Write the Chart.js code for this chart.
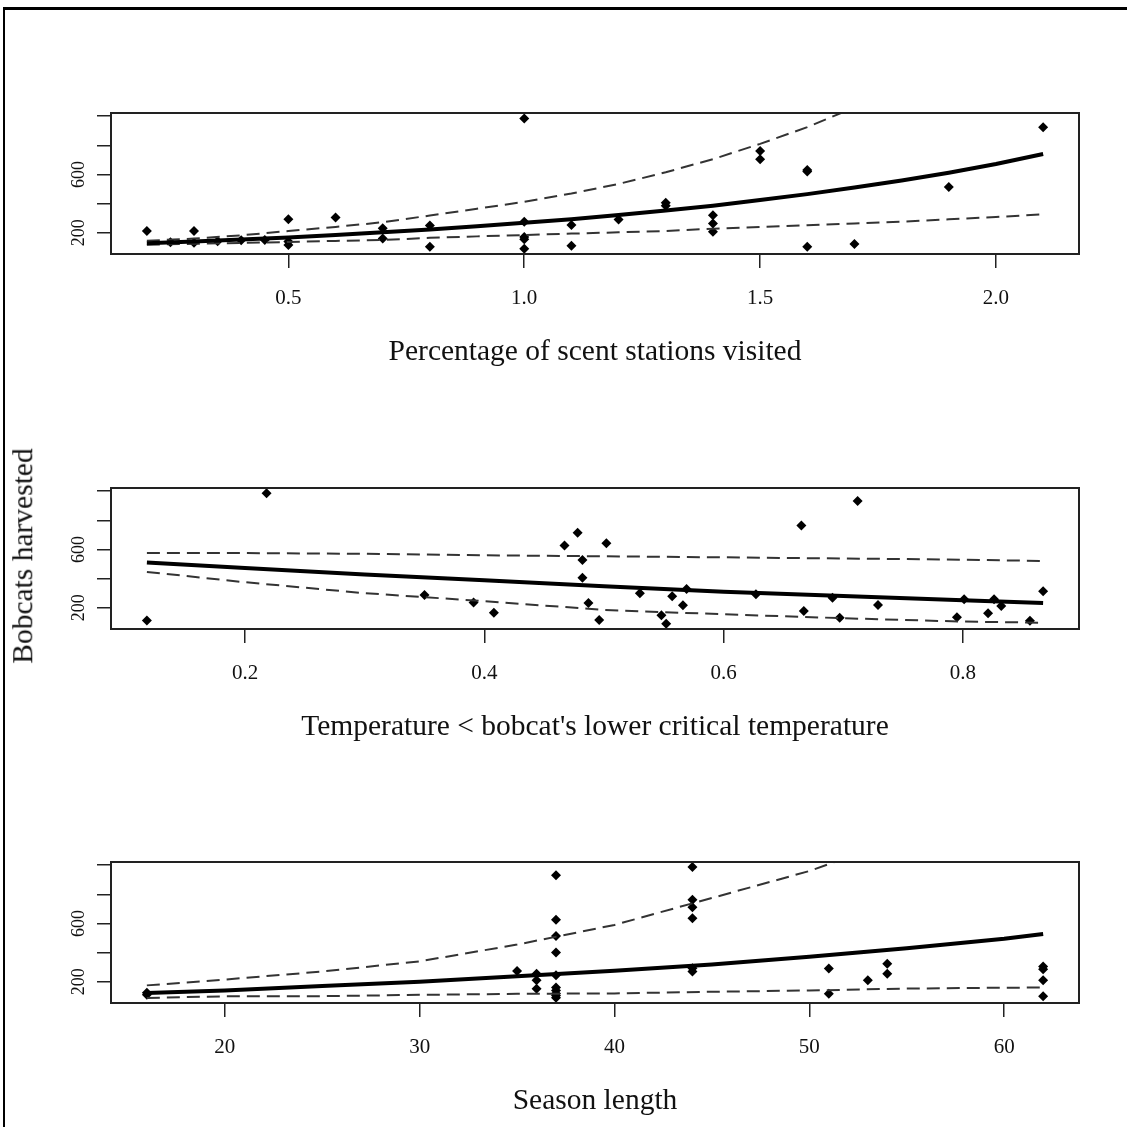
<!DOCTYPE html>
<html>
<head>
<meta charset="utf-8">
<script src="https://cdn.jsdelivr.net/npm/chart.js@4/dist/chart.umd.min.js"></script>
<style>
  html, body { margin: 0; padding: 0; background: #fff; }
  #page { position: relative; width: 1127px; height: 1127px; overflow: hidden; }
  #frame { position: absolute; left: 3px; top: 7px; right: -10px; bottom: -10px;
           border-top: 3px solid #000; border-left: 2px solid #000; }
  canvas { position: absolute; left: 0; }
  #ylab { position: absolute; left: 23px; top: 556px; white-space: nowrap;
          transform: translate(-50%, -50%) rotate(-90deg);
          font: 29.5px 'Liberation Serif', serif; line-height: 1; color: #111; }
</style>
</head>
<body>
<div id="page">
  <div id="frame"></div>
  <canvas id="c1" width="1127" height="375" style="top:0px"></canvas>
  <canvas id="c2" width="1127" height="375" style="top:375px"></canvas>
  <canvas id="c3" width="1127" height="375" style="top:749px"></canvas>
  <div id="ylab">Bobcats harvested</div>
</div>
<script>
// shared y axis (bobcats harvested)
const yTicks = [200, 400, 600, 800, 1000];
const yTickLabels = ["200", "", "600", "", ""];

// panel 1: percentage of scent stations visited
const scentX = [0.2, 0.3, 0.25, 0.3, 0.35, 0.4, 0.45, 0.5, 0.5, 0.5, 0.6, 0.7, 0.7, 0.8, 0.8,
  1.0, 1.0, 1.0, 1.0, 1.0, 1.1, 1.1, 1.2, 1.3, 1.3, 1.4, 1.4, 1.4, 1.5, 1.5, 1.6, 1.6, 1.6, 1.7, 1.9, 2.1];
const scentY = [212, 212, 135, 132, 142, 148, 150, 293, 116, 140, 305, 230, 160, 249, 104,
  985, 275, 170, 155, 90, 253, 111, 291, 405, 385, 320, 264, 207, 761, 704, 630, 620, 104, 123, 514, 925];
const scentFitX = [0.2, 0.3, 0.4, 0.5, 0.6, 0.7, 0.8, 0.9, 1.0, 1.1, 1.2, 1.3, 1.4, 1.5, 1.6, 1.7, 1.8, 1.9, 2.0, 2.1];
const scentFit = [128, 140, 153, 168, 184, 203, 222, 244, 268, 292, 322, 352, 386, 424, 465, 510, 558, 612, 672, 740];
const scentUpper = [145, 160, 182, 212, 240, 272, 318, 365, 412, 469, 535, 615, 705, 810, 925, 1060, 1210, 1380, 1580, 1800];
const scentLower = [118, 124, 130, 136, 144, 150, 165, 175, 184, 194, 203, 212, 228, 240, 252, 264, 276, 292, 308, 326];
const scentTicks = [0.5, 1.0, 1.5, 2.0];

// panel 2: temperature below lower critical temperature
const tempX = [0.118, 0.218, 0.35, 0.391, 0.408, 0.467, 0.478, 0.482, 0.482, 0.487, 0.496, 0.502, 0.53,
  0.548, 0.552, 0.557, 0.566, 0.569, 0.627, 0.665, 0.667, 0.691, 0.697, 0.712, 0.729, 0.795, 0.801,
  0.821, 0.826, 0.832, 0.856, 0.867];
const tempY = [112, 986, 287, 236, 165, 628, 714, 527, 405, 233, 115, 642, 299,
  149, 90, 279, 217, 328, 292, 765, 177, 268, 132, 932, 218, 134, 259,
  162, 259, 212, 111, 314];
const tempFitX = [0.118, 0.2, 0.3, 0.4, 0.5, 0.6, 0.7, 0.8, 0.867];
const tempFit = [510, 472, 428, 388, 348, 310, 280, 252, 232];
const tempUpper = [576, 575, 570, 560, 553, 546, 538, 530, 521];
const tempLower = [446, 375, 300, 245, 185, 155, 128, 105, 97];
const tempTicks = [0.2, 0.4, 0.6, 0.8];

// panel 3: season length
const seasonX = [16, 16, 35, 36, 36, 36, 37, 37, 37, 37, 37, 37, 37, 37, 37, 37,
  44, 44, 44, 44, 44, 44, 51, 51, 53, 54, 54, 62, 62, 62, 62];
const seasonY = [110, 125, 274, 255, 210, 152, 931, 625, 514, 400, 245, 160, 140, 120, 105, 90,
  988, 763, 712, 635, 293, 270, 290, 117, 210, 324, 255, 305, 285, 210, 101];
const seasonFitX = [16, 20, 25, 30, 35, 40, 45, 50, 55, 60, 62];
const seasonFit = [122, 140, 170, 200, 238, 276, 318, 372, 430, 495, 528];
const seasonUpper = [175, 215, 270, 340, 455, 590, 775, 960, 1200, 1500, 1650];
const seasonLower = [89, 100, 101, 110, 117, 120, 131, 140, 153, 159, 160];
const seasonTicks = [20, 30, 40, 50, 60];

const FONT = "'Liberation Serif', 'Times New Roman', serif";

const pairs = (xs, ys) => xs.map((x, i) => ({ x: x, y: ys[i] }));

// box around plot area + rotated y tick labels
const boxPlugin = {
  id: "box",
  afterDraw(chart) {
    const { ctx, chartArea: a } = chart;
    ctx.save();
    ctx.strokeStyle = "#222";
    ctx.lineWidth = 2;
    ctx.strokeRect(a.left, a.top, a.right - a.left, a.bottom - a.top);
    ctx.fillStyle = "#111";
    ctx.font = "18px " + FONT;
    ctx.textAlign = "center";
    ctx.textBaseline = "middle";
    const y = chart.scales.y;
    yTicks.forEach((v, i) => {
      if (!yTickLabels[i]) return;
      ctx.save();
      ctx.translate(a.left - 32, y.getPixelForValue(v));
      ctx.rotate(-Math.PI / 2);
      ctx.fillText(yTickLabels[i], 0, 0);
      ctx.restore();
    });
    ctx.restore();
  }
};

function makePanel(id, p) {
  const lineDs = (data, dashed) => ({
    data: data,
    showLine: true,
    pointRadius: 0,
    borderColor: dashed ? "#333" : "#000",
    borderWidth: dashed ? 2 : 4,
    borderDash: dashed ? [13, 7] : [],
    clip: 0
  });
  const tickCfg = {
    display: true,
    drawOnChartArea: false,
    drawTicks: true,
    tickLength: 14,
    color: "#222",
    lineWidth: 1.5
  };
  new Chart(document.getElementById(id), {
    type: "scatter",
    data: {
      datasets: [
        lineDs(pairs(p.fitX, p.fit), false),
        lineDs(pairs(p.fitX, p.upper), true),
        lineDs(pairs(p.fitX, p.lower), true),
        {
          data: pairs(p.x, p.y),
          pointStyle: "rectRot",
          pointRadius: 5,
          pointBorderWidth: 0,
          backgroundColor: "#000",
          borderColor: "#000"
        }
      ]
    },
    options: {
      responsive: false,
      animation: false,
      devicePixelRatio: 1,
      layout: { padding: { left: 0, right: 48, top: 113, bottom: 0 } },
      plugins: { legend: { display: false }, tooltip: { enabled: false } },
      scales: {
        x: {
          type: "linear",
          min: p.min,
          max: p.max,
          afterBuildTicks: (s) => { s.ticks = p.ticks.map((v) => ({ value: v })); },
          afterFit: (s) => { s.height = 121; },
          grid: tickCfg,
          border: { display: false },
          ticks: {
            autoSkip: false,
            maxRotation: 0,
            padding: 20,
            color: "#111",
            font: { family: FONT, size: 21, lineHeight: 1 },
            callback: (v) => p.fmt(v)
          },
          title: {
            display: true,
            text: p.title,
            color: "#111",
            font: { family: FONT, size: 29.5, lineHeight: 1 },
            padding: { top: 0, bottom: 8 }
          }
        },
        y: {
          min: 54,
          max: 1022,
          afterBuildTicks: (s) => { s.ticks = yTicks.map((v) => ({ value: v })); },
          afterFit: (s) => { s.width = 111; },
          grid: tickCfg,
          border: { display: false },
          ticks: { display: false }
        }
      }
    },
    plugins: [boxPlugin]
  });
}

makePanel("c1", {
  x: scentX, y: scentY, fitX: scentFitX, fit: scentFit, upper: scentUpper, lower: scentLower,
  ticks: scentTicks, min: 0.124, max: 2.176, fmt: (v) => v.toFixed(1),
  title: "Percentage of scent stations visited"
});
makePanel("c2", {
  x: tempX, y: tempY, fitX: tempFitX, fit: tempFit, upper: tempUpper, lower: tempLower,
  ticks: tempTicks, min: 0.088, max: 0.897, fmt: (v) => v.toFixed(1),
  title: "Temperature < bobcat's lower critical temperature"
});
makePanel("c3", {
  x: seasonX, y: seasonY, fitX: seasonFitX, fit: seasonFit, upper: seasonUpper, lower: seasonLower,
  ticks: seasonTicks, min: 14.16, max: 63.84, fmt: (v) => String(v),
  title: "Season length"
});
</script>
</body>
</html>
